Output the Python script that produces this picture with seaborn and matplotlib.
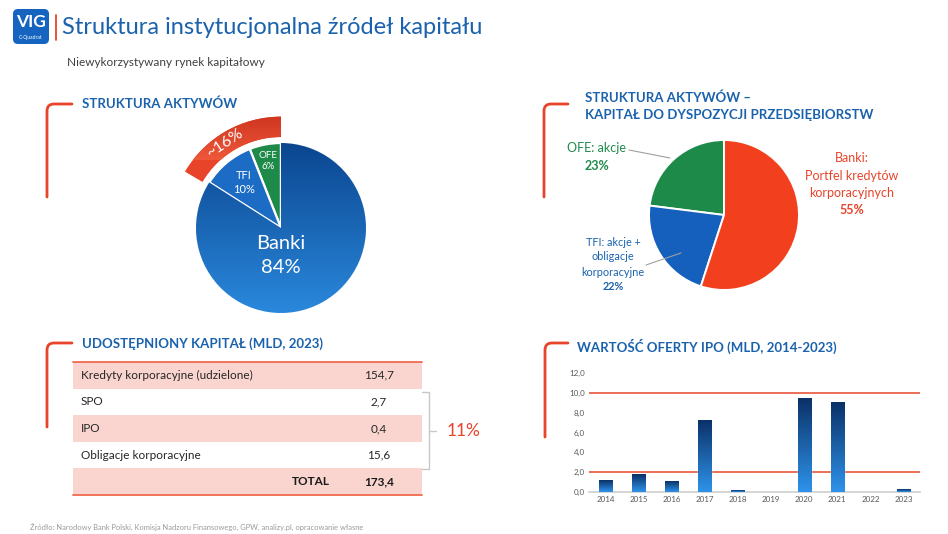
import numpy as np
import matplotlib
matplotlib.use("Agg")
import matplotlib.pyplot as plt
import seaborn as sns
from matplotlib.patches import Rectangle, Wedge, FancyBboxPatch, PathPatch
from matplotlib.path import Path
from matplotlib.colors import LinearSegmentedColormap

# ━━━━━━━━━━━━━━━━━━━━━━━━━━━━━━━━━━━━━━━━━━━━━━━━━━━━━━━━━━━━━━━━━━━━
# DATA
# ━━━━━━━━━━━━━━━━━━━━━━━━━━━━━━━━━━━━━━━━━━━━━━━━━━━━━━━━━━━━━━━━━━━━

# pie 1 (counterclockwise from 12 o'clock)
assets_labels = ["OFE", "TFI", "Banki"]
assets_shares = [6, 10, 84]

# pie 2 (counterclockwise from 12 o'clock)
capital_labels = ["OFE: akcje", "TFI: akcje +\nobligacje\nkorporacyjne", "Banki:\nPortfel kredytów\nkorporacyjnych"]
capital_shares = [23, 22, 55]

# table
table_rows = ["Kredyty korporacyjne (udzielone)", "SPO", "IPO", "Obligacje korporacyjne"]
table_values = [154.7, 2.7, 0.4, 15.6]

# IPO bar chart
ipo_years = ["2014", "2015", "2016", "2017", "2018", "2019", "2020", "2021", "2022", "2023"]
ipo_values = [1.2, 1.8, 1.1, 7.3, 0.2, 0.0, 9.5, 9.1, 0.0, 0.3]
ipo_ref_lines = [2.0, 10.0]

# ━━━━━━━━━━━━━━━━━━━━━━━━━━━━━━━━━━━━━━━━━━━━━━━━━━━━━━━━━━━━━━━━━━━━
# STYLE
# ━━━━━━━━━━━━━━━━━━━━━━━━━━━━━━━━━━━━━━━━━━━━━━━━━━━━━━━━━━━━━━━━━━━━

W, H = 948, 534
BLUE = "#1a62ad"
RED = "#e8442a"
GREEN = "#1e8a4a"
PINK = "#fad5cf"

sns.set_theme(style="white")
plt.rcParams["font.family"] = ["Lato", "DejaVu Sans"]

fig = plt.figure(figsize=(W / 100, H / 100), dpi=100)
fig.patch.set_facecolor("white")


def px_axes(x0, y0, w, h):
    return fig.add_axes([x0 / W, 1 - (y0 + h) / H, w / W, h / H])


def fmt(v):
    return f"{v:.1f}".replace(".", ",")


def gradient_fill(ax, patch, extent, top, bottom, z=3):
    cmap = LinearSegmentedColormap.from_list("g", [top, bottom])
    grad = np.linspace(0, 1, 256).reshape(-1, 1)
    im = ax.imshow(grad, extent=extent, origin="upper", cmap=cmap,
                   aspect="auto", zorder=z)
    im.set_clip_path(patch)


# ━━━━━━━━━━━━━━━━━━━━━━━━━━━━━━━━━━━━━━━━━━━━━━━━━━━━━━━━━━━━━━━━━━━━
# PIE 1: STRUKTURA AKTYWOW
# ━━━━━━━━━━━━━━━━━━━━━━━━━━━━━━━━━━━━━━━━━━━━━━━━━━━━━━━━━━━━━━━━━━━━

r1 = 85
ax1 = px_axes(281 - 120, 228 - 120, 240, 240)
wedges1, _ = ax1.pie(assets_shares, startangle=90, counterclock=True,
                     colors=[GREEN, "#1c6cc6", "#1560bd"],
                     wedgeprops=dict(edgecolor="white", linewidth=1.6))
lim = 120 / r1
ax1.set_xlim(-lim, lim)
ax1.set_ylim(-lim, lim)
ax1.set_aspect("equal")
ax1.axis("off")
gradient_fill(ax1, wedges1[2], [-1, 1, -1, 1], "#0b4690", "#2a88dc", z=1.5)

# outer band for the non-bank share
band_share = assets_shares[0] + assets_shares[1]
band = Wedge((0, 0), 1.31, 90, 90 + 3.6 * band_share + 2, width=0.24,
             facecolor=RED, edgecolor="none")
ax1.add_patch(band)
gradient_fill(ax1, band, [-1.4, 0.1, 0.8, 1.4], "#c8301c", "#f0583a", z=2)
ang = np.deg2rad(90 + 1.8 * band_share + 5)
ax1.text(1.2 * np.cos(ang), 1.2 * np.sin(ang), f"~{band_share}%",
         rotation=np.rad2deg(ang) - 90, color="white", fontsize=11.5,
         ha="center", va="center", zorder=5)

for w, lab, s in zip(wedges1, assets_labels, assets_shares):
    mid = np.deg2rad((w.theta1 + w.theta2) / 2)
    if lab == "Banki":
        ax1.text(0, -0.18, lab, color="white", fontsize=14.5, ha="center", va="center", zorder=5)
        ax1.text(0, -0.47, f"{s}%", color="white", fontsize=14.5, ha="center", va="center", zorder=5)
    else:
        rr = 0.69 if lab == "TFI" else 0.8
        fs = 8 if lab == "TFI" else 7
        ax1.text(rr * np.cos(mid), rr * np.sin(mid), f"{lab}\n{s}%", color="white",
                 fontsize=fs, ha="center", va="center", linespacing=1.3, zorder=5)

# ━━━━━━━━━━━━━━━━━━━━━━━━━━━━━━━━━━━━━━━━━━━━━━━━━━━━━━━━━━━━━━━━━━━━
# PIE 2: KAPITAL DO DYSPOZYCJI
# ━━━━━━━━━━━━━━━━━━━━━━━━━━━━━━━━━━━━━━━━━━━━━━━━━━━━━━━━━━━━━━━━━━━━

r2 = 75
ax2 = px_axes(724 - 100, 215 - 100, 200, 200)
ax2.pie(capital_shares, startangle=90, counterclock=True,
        colors=[GREEN, "#1560bd", "#f2401e"],
        wedgeprops=dict(edgecolor="white", linewidth=1.4))
lim = 100 / r2
ax2.set_xlim(-lim, lim)
ax2.set_ylim(-lim, lim)
ax2.set_aspect("equal")
ax2.axis("off")

# ━━━━━━━━━━━━━━━━━━━━━━━━━━━━━━━━━━━━━━━━━━━━━━━━━━━━━━━━━━━━━━━━━━━━
# BAR CHART: WARTOSC OFERTY IPO
# ━━━━━━━━━━━━━━━━━━━━━━━━━━━━━━━━━━━━━━━━━━━━━━━━━━━━━━━━━━━━━━━━━━━━

ax3 = px_axes(589, 373, 331, 119)
sns.barplot(x=ipo_years, y=ipo_values, color="#1560bd", width=0.4, ax=ax3, zorder=2)
for p in ax3.patches:
    h = p.get_height()
    if h > 0:
        x0 = p.get_x()
        gradient_fill(ax3, p, [x0, x0 + p.get_width(), 0, h], "#0a3066", "#2e93ea")
for yv in ipo_ref_lines:
    ax3.axhline(yv, color="#e8553a", lw=1.2, zorder=1)
ax3.set_xlim(-0.5, len(ipo_years) - 0.5)
ax3.set_ylim(0, 12)
ax3.set_yticks(np.arange(0, 12.1, 2))
ax3.set_yticklabels([fmt(v) for v in np.arange(0, 12.1, 2)])
ax3.tick_params(axis="both", labelsize=5.8, labelcolor="#595959", length=0, pad=3)
ax3.set_xlabel("")
ax3.set_ylabel("")
for s in ["top", "right", "left"]:
    ax3.spines[s].set_visible(False)
ax3.spines["bottom"].set_color("#d0d0d0")
ax3.patch.set_alpha(0)

# ━━━━━━━━━━━━━━━━━━━━━━━━━━━━━━━━━━━━━━━━━━━━━━━━━━━━━━━━━━━━━━━━━━━━
# OVERLAY (pixel coordinates): header, headings, table, labels
# ━━━━━━━━━━━━━━━━━━━━━━━━━━━━━━━━━━━━━━━━━━━━━━━━━━━━━━━━━━━━━━━━━━━━

ov = fig.add_axes([0, 0, 1, 1])
ov.set_xlim(0, W)
ov.set_ylim(H, 0)
ov.axis("off")
ov.patch.set_alpha(0)

# logo + title
ov.add_patch(FancyBboxPatch((13, 9), 36, 35, boxstyle="round,pad=0,rounding_size=5",
                            facecolor="#1565c0", edgecolor="none"))
ov.text(31, 22, "VIG", color="white", fontsize=12.5, fontweight="bold", ha="center", va="center")
ov.text(31, 38, "C-Quadrat", color="white", fontsize=3.6, ha="center", va="center")
ov.plot([56, 56], [15, 40], color=RED, lw=1.3)
ov.text(62, 27, "Struktura instytucjonalna źródeł kapitału", color=BLUE,
        fontsize=17, ha="left", va="center")
ov.text(67, 63, "Niewykorzystywany rynek kapitałowy", color="#404040",
        fontsize=8.5, ha="left", va="center")


def bracket(x, y, x_end, y_end):
    verts = [(x_end, y), (x + 7, y), (x, y), (x, y + 7), (x, y_end)]
    codes = [Path.MOVETO, Path.LINETO, Path.CURVE3, Path.CURVE3, Path.LINETO]
    ov.add_patch(PathPatch(Path(verts, codes), facecolor="none", edgecolor=RED,
                           lw=2.0, capstyle="round"))


bracket(47, 104, 72, 197)
bracket(544, 104, 568, 197)
bracket(47, 343, 72, 427)
bracket(545, 343, 568, 437)

head = dict(color=BLUE, fontsize=9.5, fontweight="bold", ha="left", va="center")
ov.text(82, 104, "STRUKTURA AKTYWÓW", **head)
ov.text(585, 98, "STRUKTURA AKTYWÓW –", **head)
ov.text(585, 115, "KAPITAŁ DO DYSPOZYCJI PRZEDSIĘBIORSTW", **head)
ov.text(82, 344, "UDOSTĘPNIONY KAPITAŁ (MLD, 2023)", **head)
ov.text(577, 346, "WARTOŚĆ OFERTY IPO (MLD, 2014-2023)", **head)

# pie 2 labels
lab_colors = [GREEN, BLUE, RED]
lab_pos = [(597, 148), (613, 242), (852, 158)]
for lab, share, col, (lx, ly) in zip(capital_labels, capital_shares, lab_colors, lab_pos):
    lines = lab.split("\n")
    step = 15 if col == BLUE else 17.5
    fs = 7.8 if col == BLUE else 9
    for i, line in enumerate(lines):
        ov.text(lx, ly + i * step, line, color=col, fontsize=fs, ha="center", va="center")
    ov.text(lx, ly + len(lines) * step, f"{share}%", color=col, fontsize=fs,
            fontweight="bold", ha="center", va="center")
ov.plot([629, 670], [150, 158], color="#a0a0a0", lw=0.8)
ov.plot([646, 681], [265, 253], color="#a0a0a0", lw=0.8)

# table
row_h = 26.6
top = 362
n_rows = len(table_rows) + 1
for i in range(n_rows):
    if i % 2 == 0:
        ov.add_patch(Rectangle((73, top + i * row_h), 349, row_h, facecolor=PINK, edgecolor="none"))
ov.plot([73, 422], [top, top], color="#f06a50", lw=1.3)
ov.plot([73, 422], [top + n_rows * row_h, top + n_rows * row_h], color="#f06a50", lw=1.3)
for i, (lab, v) in enumerate(zip(table_rows, table_values)):
    yc = top + (i + 0.5) * row_h
    ov.text(81, yc, lab, color="#262626", fontsize=8.5, ha="left", va="center")
    ov.text(379, yc, fmt(v), color="#262626", fontsize=8.5, ha="center", va="center")
yc = top + (n_rows - 0.5) * row_h
total = sum(table_values)
ov.text(330, yc, "TOTAL", color="#1a1a1a", fontsize=8.5, fontweight="bold", ha="right", va="center")
ov.text(379, yc, fmt(total), color="#1a1a1a", fontsize=8.5, fontweight="bold", ha="center", va="center")

# brace for the non-bank share
y_a, y_b = top + row_h + 3, top + (n_rows - 1) * row_h + 1
ov.plot([422, 429, 429, 422], [y_a, y_a, y_b, y_b], color="#c8c8c8", lw=1.0)
ov.plot([429, 436], [(y_a + y_b) / 2] * 2, color="#c8c8c8", lw=1.0)
non_bank = sum(table_values[1:]) / total * 100
ov.text(447, (y_a + y_b) / 2, f"{non_bank:.0f}%", color=RED, fontsize=12.5,
        ha="left", va="center")

# footer
ov.text(30, 527, "Źródło: Narodowy Bank Polski, Komisja Nadzoru Finansowego, GPW, analizy.pl, opracowanie własne",
        color="#9a9a9a", fontsize=5.4, ha="left", va="center")

fig.savefig("out.png", dpi=100, facecolor="white")
